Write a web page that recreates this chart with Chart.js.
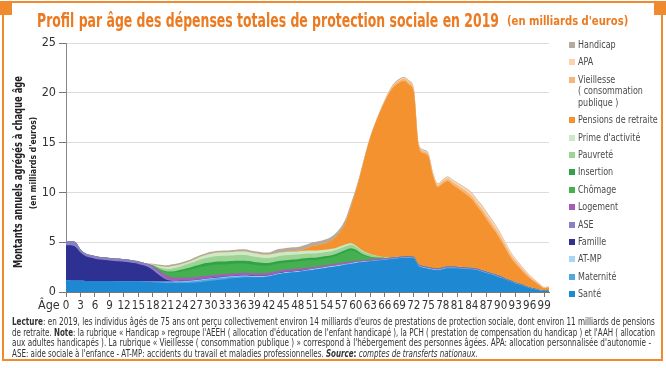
<!DOCTYPE html>
<html><head><meta charset="utf-8">
<script src="https://cdn.jsdelivr.net/npm/chart.js@4/dist/chart.umd.min.js"></script>
<style>
html,body{margin:0;padding:0;background:#fff;}
body{width:666px;height:368px;position:relative;overflow:hidden;font-family:'Liberation Sans Narrow','DejaVu Sans Condensed',sans-serif;}
#c{position:absolute;left:0;top:0;}
.or{position:absolute;background:#f08a2e;}
.txt{position:absolute;white-space:nowrap;transform-origin:0 0;}
#t1{left:37px;top:8px;font-size:20px;font-weight:bold;color:#ec7a20;}
#t2{left:507px;top:13px;font-size:13px;font-weight:bold;color:#ec7a20;}
.rot{position:absolute;white-space:nowrap;font-weight:bold;color:#222;}
#age{left:38px;top:297px;font-size:12.5px;color:#333;}
#legend{position:absolute;left:569px;top:39px;}
.li{display:flex;align-items:flex-start;margin-bottom:5.9px;}
.sq{width:6px;height:6px;margin-top:3px;margin-right:3px;flex:none;}
.lt{font-size:11px;line-height:11.5px;color:#4a4a4a;white-space:pre;transform-origin:0 0;}
.note{position:absolute;left:12px;white-space:nowrap;font-size:10px;color:#333;transform-origin:0 0;}
</style></head>
<body>
<canvas id="c" width="666" height="368"></canvas>
<div class="or" style="left:0;top:1px;width:666px;height:2px"></div>
<div class="or" style="left:0;top:1px;width:12px;height:14px"></div>
<div class="or" style="left:654px;top:1px;width:12px;height:14px"></div>
<div class="or" style="left:2px;top:1px;width:2px;height:360px"></div>
<div class="or" style="left:661px;top:1px;width:2px;height:360px"></div>
<div class="or" style="left:2px;top:359px;width:661px;height:2px"></div>
<div id="t1" class="txt">Profil par âge des dépenses totales de protection sociale en 2019</div>
<div id="t2" class="txt">(en milliards d'euros)</div>
<div id="ytitle" class="rot" style="font-size:12px">Montants annuels agrégés à chaque âge</div>
<div id="ysub" class="rot" style="font-size:8.5px">(en milliards d'euros)</div>
<div id="age" class="txt">Âge</div>
<div id="legend"></div>
<div class="note" id="n1" style="top:316px"><b>Lecture</b>: en 2019, les individus âgés de 75 ans ont perçu collectivement environ 14 milliards d'euros de prestations de protection sociale, dont environ 11 milliards de pensions</div>
<div class="note" id="n2" style="top:326.5px">de retraite. <b>Note</b>: la rubrique « Handicap » regroupe l'AEEH ( allocation d'éducation de l'enfant handicapé ), la PCH ( prestation de compensation du handicap ) et l'AAH ( allocation</div>
<div class="note" id="n3" style="top:337px">aux adultes handicapés ). La rubrique « Vieillesse ( consommation publique ) » correspond à l'hébergement des personnes âgées. APA: allocation personnalisée d'autonomie -</div>
<div class="note" id="n4" style="top:347.5px">ASE: aide sociale à l'enfance - AT-MP: accidents du travail et maladies professionnelles. <b><i>Source</i>:</b> <i>comptes de transferts nationaux.</i></div>
<script>
// ---- DATA (billions of euros, by age 0..100) ----
const ages = [0,1,2,3,4,5,6,7,8,9,10,11,12,13,14,15,16,17,18,19,20,21,22,23,24,25,26,27,28,29,30,31,32,33,34,35,36,37,38,39,40,41,42,43,44,45,46,47,48,49,50,51,52,53,54,55,56,57,58,59,60,61,62,63,64,65,66,67,68,69,70,71,72,73,74,75,76,77,78,79,80,81,82,83,84,85,86,87,88,89,90,91,92,93,94,95,96,97,98,99,100];
const xTicks = [0,3,6,9,12,15,18,21,24,27,30,33,36,39,42,45,48,51,54,57,60,63,66,69,72,75,78,81,84,87,90,93,96,99];
const yTicks = [0,5,10,15,20,25];

const sante = [1.2,1.14,1.12,1.12,1.11,1.11,1.1,1.1,1.1,1.1,
1.09,1.09,1.08,1.08,1.07,1.07,1.04,1.02,0.99,0.96,
0.93,0.9,0.9,0.89,0.9,0.9,0.92,0.96,1.01,1.06,
1.12,1.18,1.24,1.29,1.35,1.4,1.44,1.48,1.49,1.48,
1.48,1.5,1.56,1.67,1.8,1.89,1.94,1.98,2.02,2.08,
2.15,2.22,2.29,2.36,2.44,2.51,2.59,2.67,2.75,2.83,
2.91,2.98,3.03,3.08,3.13,3.18,3.23,3.28,3.33,3.38,
3.43,3.44,3.39,2.64,2.44,2.34,2.24,2.19,2.29,2.39,
2.39,2.38,2.35,2.32,2.28,2.2,2.07,1.92,1.77,1.6,
1.42,1.25,1.07,0.89,0.72,0.55,0.41,0.28,0.17,0.09,
0.08];
const maternite = [0,0,0,0,0,0,0,0,0,0,
0,0,0,0,0,0,0.01,0.02,0.03,0.05,
0.07,0.09,0.1,0.12,0.13,0.15,0.16,0.17,0.18,0.19,
0.19,0.19,0.18,0.17,0.15,0.13,0.11,0.09,0.07,0.05,
0.04,0.03,0.02,0.01,0,0,0,0,0,0,
0,0,0,0,0,0,0,0,0,0,
0,0,0,0,0,0,0,0,0,0,
0,0,0,0,0,0,0,0,0,0,
0,0,0,0,0,0,0,0,0,0,
0,0,0,0,0,0,0,0,0,0,
0];
const atmp = [0,0,0,0,0,0,0,0,0,0,
0,0,0,0,0,0,0.01,0.02,0.03,0.04,
0.05,0.06,0.06,0.06,0.06,0.06,0.07,0.07,0.07,0.07,
0.07,0.07,0.07,0.07,0.07,0.07,0.08,0.08,0.08,0.08,
0.08,0.08,0.08,0.08,0.08,0.08,0.09,0.09,0.09,0.09,
0.09,0.09,0.09,0.09,0.09,0.09,0.09,0.09,0.09,0.09,
0.09,0.07,0.07,0.07,0.07,0.07,0.07,0.07,0.07,0.07,
0.07,0.06,0.06,0.06,0.06,0.06,0.06,0.06,0.06,0.06,
0.06,0.05,0.05,0.05,0.05,0.05,0.05,0.05,0.05,0.05,
0.05,0.03,0.03,0.03,0.03,0.03,0.02,0.02,0.02,0.02,
0.02];
const famille = [3.5,3.55,3.4,2.85,2.5,2.35,2.25,2.17,2.12,2.07,
2.03,2.0,1.96,1.9,1.83,1.75,1.62,1.45,1.15,0.75,
0.4,0.15,0.05,0.03,0.03,0.03,0.03,0.03,0.03,0.03,
0.03,0.03,0.03,0.03,0.03,0.03,0.03,0.03,0.03,0.03,
0.03,0.03,0.03,0.03,0.03,0.03,0.03,0.03,0.03,0.03,
0.03,0,0,0,0,0,0,0,0,0,
0,0,0,0,0,0,0,0,0,0,
0,0,0,0,0,0,0,0,0,0,
0,0,0,0,0,0,0,0,0,0,
0,0,0,0,0,0,0,0,0,0,
0];
const ase = [0.35,0.4,0.45,0.3,0.25,0.25,0.25,0.25,0.25,0.25,
0.25,0.25,0.25,0.25,0.25,0.25,0.25,0.27,0.3,0.25,
0.15,0.08,0.03,0,0,0,0,0,0,0,
0,0,0,0,0,0,0,0,0,0,
0,0,0,0,0,0,0,0,0,0,
0,0,0,0,0,0,0,0,0,0,
0,0,0,0,0,0,0,0,0,0,
0,0,0,0,0,0,0,0,0,0,
0,0,0,0,0,0,0,0,0,0,
0,0,0,0,0,0,0,0,0,0,
0];
const logement = [0,0,0,0,0,0,0,0,0,0,
0,0,0,0,0,0,0,0.02,0.1,0.2,
0.3,0.35,0.35,0.33,0.31,0.3,0.29,0.28,0.28,0.27,
0.26,0.26,0.25,0.25,0.25,0.25,0.25,0.25,0.25,0.25,
0.25,0.25,0.24,0.24,0.23,0.22,0.22,0.22,0.21,0.21,
0.2,0.2,0.19,0.19,0.18,0.18,0.17,0.17,0.16,0.16,
0.15,0.13,0.13,0.13,0.13,0.13,0.1,0.1,0.1,0.1,
0.1,0.1,0.1,0.1,0.1,0.1,0.1,0.1,0.1,0.1,
0.1,0.1,0.1,0.1,0.1,0.1,0.1,0.1,0.1,0.1,
0.1,0.07,0.07,0.07,0.07,0.07,0.04,0.04,0.04,0.04,
0.04];
const chomage = [0,0,0,0,0,0,0,0,0,0,
0,0,0,0,0,0,0,0,0.05,0.12,
0.22,0.35,0.48,0.58,0.66,0.74,0.82,0.9,0.96,1.0,
1.02,1.02,1.0,0.98,0.97,0.97,0.96,0.94,0.9,0.85,
0.8,0.74,0.73,0.72,0.71,0.7,0.7,0.7,0.71,0.72,
0.72,0.7,0.68,0.68,0.68,0.7,0.78,0.9,1.05,1.12,
0.9,0.6,0.35,0.2,0.1,0.05,0.02,0,0,0,
0,0,0,0,0,0,0,0,0,0,
0,0,0,0,0,0,0,0,0,0,
0,0,0,0,0,0,0,0,0,0,
0];
const insertion = [0,0,0,0,0,0,0,0,0,0,
0,0,0,0,0,0,0,0,0,0.03,
0.06,0.08,0.1,0.13,0.16,0.2,0.22,0.24,0.26,0.28,
0.28,0.28,0.28,0.28,0.28,0.28,0.28,0.28,0.28,0.28,
0.28,0.27,0.26,0.25,0.25,0.24,0.24,0.24,0.23,0.23,
0.23,0.23,0.22,0.22,0.22,0.22,0.22,0.21,0.2,0.2,
0.18,0.14,0.1,0.06,0.03,0.01,0,0,0,0,
0,0,0,0,0,0,0,0,0,0,
0,0,0,0,0,0,0,0,0,0,
0,0,0,0,0,0,0,0,0,0,
0];
const pauvrete = [0,0,0,0,0,0,0,0,0,0,
0,0,0,0,0,0,0,0,0.05,0.12,
0.2,0.25,0.3,0.33,0.36,0.4,0.43,0.47,0.5,0.52,
0.55,0.56,0.57,0.57,0.57,0.57,0.57,0.57,0.55,0.53,
0.52,0.51,0.5,0.5,0.5,0.5,0.49,0.48,0.47,0.46,
0.45,0.43,0.42,0.41,0.4,0.39,0.38,0.37,0.36,0.35,
0.33,0.3,0.28,0.25,0.2,0.12,0.05,0.03,0.02,0.02,
0.02,0.02,0.02,0.02,0.02,0.02,0.02,0.02,0.02,0.02,
0.02,0.02,0.02,0.02,0.02,0.02,0.02,0.02,0.02,0.02,
0.02,0.02,0.02,0.02,0.02,0.02,0.02,0.02,0.02,0.02,
0.02];
const primeActivite = [0,0,0,0,0,0,0,0,0,0,
0,0,0,0,0,0,0,0,0.05,0.12,
0.17,0.2,0.24,0.22,0.2,0.18,0.2,0.23,0.27,0.3,
0.33,0.35,0.35,0.35,0.35,0.35,0.35,0.35,0.33,0.33,
0.33,0.33,0.33,0.33,0.33,0.33,0.32,0.32,0.31,0.31,
0.3,0.29,0.28,0.27,0.25,0.24,0.22,0.2,0.18,0.15,
0.12,0.08,0.05,0.03,0.02,0,0,0,0,0,
0,0,0,0,0,0,0,0,0,0,
0,0,0,0,0,0,0,0,0,0,
0,0,0,0,0,0,0,0,0,0,
0];
const pensions = [0,0,0,0,0,0,0,0,0,0,
0,0,0,0,0,0,0,0,0,0,
0,0,0,0,0,0,0,0,0,0,
0,0,0,0,0,0,0,0,0,0,
0,0,0,0,0,0,0.03,0.05,0.08,0.14,
0.25,0.45,0.53,0.58,0.69,0.87,1.15,1.59,2.32,3.65,
5.4,7.6,9.8,11.7,13.19,14.48,15.62,16.56,17.15,17.45,
17.57,17.2,16.5,11.82,11.32,11.1,9.2,8.15,8.4,8.54,
8.2,7.89,7.57,7.26,6.85,6.3,5.81,5.24,4.69,4.18,
3.58,2.98,2.31,1.85,1.5,1.13,0.89,0.64,0.42,0.2,
0.28];
const vieillesse = [0,0,0,0,0,0,0,0,0,0,
0,0,0,0,0,0,0,0,0,0,
0,0,0,0,0,0,0,0,0,0,
0,0,0,0,0,0,0,0,0,0,
0,0,0,0,0,0,0,0,0,0,
0,0,0,0,0,0,0,0,0,0,
0,0.01,0.02,0.03,0.05,0.07,0.1,0.13,0.17,0.2,
0.22,0.24,0.24,0.2,0.2,0.21,0.2,0.2,0.22,0.25,
0.27,0.28,0.3,0.32,0.34,0.35,0.36,0.37,0.37,0.36,
0.35,0.32,0.3,0.27,0.23,0.2,0.16,0.12,0.09,0.06,
0.05];
const apa = [0,0,0,0,0,0,0,0,0,0,
0,0,0,0,0,0,0,0,0,0,
0,0,0,0,0,0,0,0,0,0,
0,0,0,0,0,0,0,0,0,0,
0,0,0,0,0,0,0,0,0,0,
0,0,0,0,0,0,0,0,0,0,
0,0,0,0,0,0.01,0.03,0.05,0.08,0.1,
0.12,0.13,0.13,0.1,0.1,0.11,0.12,0.12,0.15,0.18,
0.2,0.22,0.25,0.27,0.3,0.32,0.33,0.34,0.34,0.33,
0.32,0.3,0.27,0.24,0.2,0.17,0.13,0.1,0.07,0.05,
0.04];
const handicap = [0.02,0.03,0.03,0.03,0.03,0.03,0.03,0.03,0.03,0.03,
0.03,0.03,0.03,0.03,0.03,0.03,0.03,0.05,0.08,0.13,
0.17,0.18,0.18,0.18,0.18,0.18,0.18,0.18,0.18,0.18,
0.18,0.18,0.18,0.18,0.18,0.18,0.22,0.22,0.22,0.22,
0.22,0.22,0.22,0.3,0.38,0.38,0.38,0.38,0.38,0.38,
0.38,0.38,0.38,0.38,0.38,0.38,0.38,0.38,0.38,0.35,
0.28,0.2,0.12,0.08,0.08,0.08,0.08,0.08,0.08,0.08,
0.08,0.06,0.06,0.06,0.06,0.06,0.06,0.06,0.06,0.06,
0.06,0.06,0.06,0.06,0.06,0.06,0.06,0.06,0.06,0.06,
0.06,0.03,0.03,0.03,0.03,0.03,0.03,0.03,0.02,0.02,
0.02];

// series, bottom of stack first
const seriesNames = ['Santé','Maternité','AT-MP','Famille','ASE','Logement','Chômage','Insertion','Pauvreté',"Prime d'activité",'Pensions de retraite','Vieillesse\n( consommation\npublique )','APA','Handicap'];
const seriesValues = [sante,maternite,atmp,famille,ase,logement,chomage,insertion,pauvrete,primeActivite,pensions,vieillesse,apa,handicap];
// styles
const seriesColors = ['#1f88d2','#4ea8e3','#a9d6f3','#2e3192','#8a80c6','#a55db5','#45b04f','#2fa347','#9dd395','#cdeac6','#f3922f','#f7b679','#fbd4ae','#b4ab9c'];

const datasets = seriesValues.map((vals,i)=>({
  label: seriesNames[i].replace(/\n/g,' '),
  data: ages.map((a,k)=>({x:a,y:vals[k]})),
  backgroundColor: seriesColors[i],
  borderColor: seriesColors[i],
  borderWidth: 0,
  pointRadius: 0,
  fill: 'origin',
  cubicInterpolationMode: 'monotone'
}));

const tickFont = "'Liberation Sans Narrow','DejaVu Sans Condensed',sans-serif";
new Chart(document.getElementById('c'), {
  type: 'line',
  data: { datasets },
  options: {
    responsive: false, animation: false, devicePixelRatio: 1,
    layout: { padding: { left: 40, right: 117, top: 43, bottom: 56 } },
    plugins: { legend: { display: false }, tooltip: { enabled: false }, filler: { drawTime: 'beforeDatasetsDraw' } },
    scales: {
      x: {
        type: 'linear', min: 0, max: 100,
        afterBuildTicks: s => { s.ticks = xTicks.map(v => ({ value: v })); },
        ticks: { autoSkip: false, maxRotation: 0, includeBounds: false, padding: 2, color: '#333', font: { family: tickFont, size: 11.5 } },
        grid: { drawOnChartArea: false, tickLength: 5, tickColor: '#777' },
        border: { color: '#777' },
        afterFit: s => { s.height = 20; }
      },
      y: {
        stacked: true, min: 0, max: 25,
        afterBuildTicks: s => { s.ticks = yTicks.map(v => ({ value: v })); },
        ticks: { padding: 3, color: '#333', font: { family: tickFont, size: 12.5 } },
        grid: { color: '#dcdcdc', tickLength: 7, tickColor: '#777' },
        border: { color: '#888' },
        afterFit: s => { s.width = 26; }
      }
    }
  }
});

// legend (top of stack first)
const lg = document.getElementById('legend');
for (let i = seriesNames.length - 1; i >= 0; i--) {
  const row = document.createElement('div'); row.className = 'li';
  const sq = document.createElement('div'); sq.className = 'sq'; sq.style.background = seriesColors[i];
  const t = document.createElement('div'); t.className = 'lt'; t.textContent = seriesNames[i];
  row.appendChild(sq); row.appendChild(t); lg.appendChild(row);
}
// fit text widths
function sx(el, w){ const k = w / el.offsetWidth; el.style.transform = 'scaleX(' + k + ')'; return k; }
sx(document.getElementById('t1'), 462);
sx(document.getElementById('t2'), 121);
const lts = [...document.querySelectorAll('.lt')];
const pr = lts.find(e => e.textContent === 'Pensions de retraite');
const kl = 80 / pr.offsetWidth;
lts.forEach(e => e.style.transform = 'scaleX(' + kl + ')');
sx(document.getElementById('n1'), 643);
sx(document.getElementById('n2'), 643);
sx(document.getElementById('n3'), 639);
sx(document.getElementById('n4'), 466);
function rot(id, cx, cy, len){
  const el = document.getElementById(id);
  const k = len / el.offsetWidth;
  el.style.left = cx + 'px'; el.style.top = cy + 'px';
  el.style.transform = 'translate(-50%,-50%) rotate(-90deg) scaleX(' + k + ')';
}
rot('ytitle', 18, 172, 192);
rot('ysub', 33, 163, 92);
</script>
</body></html>
